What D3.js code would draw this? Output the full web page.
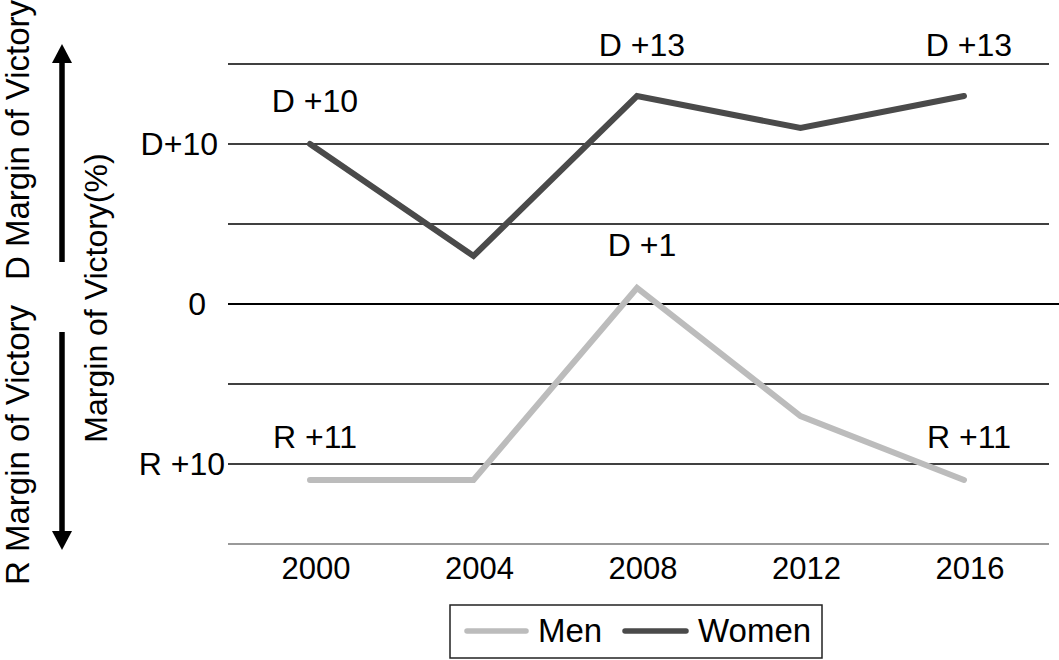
<!DOCTYPE html>
<html>
<head>
<meta charset="utf-8">
<script src="https://cdn.jsdelivr.net/npm/d3@7"></script>
<style>
  html, body { margin: 0; padding: 0; background: #fff; }
  text { font-family: "Liberation Sans", Arial, Helvetica, sans-serif; fill: #000; }
</style>
</head>
<body>
<svg id="chart" width="1059" height="660"></svg>
<script>
// ---- data ----
const years = [2000, 2004, 2008, 2012, 2016];
const menValues = [-11, -11, 1, -7, -11];
const womenValues = [10, 3, 13, 11, 13];
const gridValues = [15, 10, 5, 0, -5, -10, -15];
const yTickValues = [10, 0, -10];
const yTickLabels = ["D+10", "0", "R +10"];
const annotationYears = [2000, 2008, 2016, 2008, 2000, 2016];
const annotationValues = [12, 15.5, 15.5, 3, -9, -9];
const annotationTexts = ["D +10", "D +13", "D +13", "D +1", "R +11", "R +11"];
const seriesNames = ["Men", "Women"];
const yTitle = "Margin of Victory(%)";
const rTitle = "R Margin of Victory";
const dTitle = "D Margin of Victory";

// ---- layout ----
const svg = d3.select("#chart");
const x = d3.scaleLinear().domain([2000, 2016]).range([310, 964]);
const y = d3.scaleLinear().domain([-15, 15]).range([544, 64]);
const colors = { Men: "#bcbcbc", Women: "#4a4a4a" };
const FS = 32;

// grid lines
svg.append("g").selectAll("line").data(gridValues).join("line")
  .attr("x1", 228)
  .attr("x2", d => d === 0 ? 1059 : 1049)
  .attr("y1", d => y(d)).attr("y2", d => y(d))
  .attr("stroke", d => d === -15 ? "#777" : "#000")
  .attr("stroke-width", d => d === 0 ? 2 : 1.6);

// y tick labels
const tickEnds = [218, 206, 225];
svg.append("g").selectAll("text").data(yTickValues).join("text")
  .attr("x", (d, i) => tickEnds[i])
  .attr("y", d => y(d) + 11)
  .attr("text-anchor", "end")
  .attr("font-size", FS)
  .text((d, i) => yTickLabels[i]);

// x tick labels
svg.append("g").selectAll("text").data(years).join("text")
  .attr("x", d => x(d) + 6)
  .attr("y", 579)
  .attr("text-anchor", "middle")
  .attr("font-size", 31)
  .text(d => d);

// lines
const line = d3.line().x(d => x(d[0])).y(d => y(d[1]));
const series = [
  { name: "Men", values: menValues },
  { name: "Women", values: womenValues }
];
svg.append("g").selectAll("path").data(series).join("path")
  .attr("d", s => line(years.map((yr, i) => [yr, s.values[i]])))
  .attr("fill", "none")
  .attr("stroke", s => colors[s.name])
  .attr("stroke-width", 6)
  .attr("stroke-linejoin", "miter")
  .attr("stroke-linecap", "round");

// annotations
svg.append("g").selectAll("text").data(annotationTexts).join("text")
  .attr("x", (d, i) => x(annotationYears[i]) + 5)
  .attr("y", (d, i) => y(annotationValues[i]))
  .attr("text-anchor", "middle")
  .attr("font-size", FS)
  .text(d => d);

// axis titles
svg.append("text")
  .attr("transform", `translate(107, ${298}) rotate(-90)`)
  .attr("text-anchor", "middle")
  .attr("font-size", FS)
  .text(yTitle);
svg.append("text")
  .attr("transform", `translate(29, 585) rotate(-90)`)
  .attr("text-anchor", "start")
  .attr("font-size", 33)
  .text(rTitle);
svg.append("text")
  .attr("transform", `translate(29, 280) rotate(-90)`)
  .attr("text-anchor", "start")
  .attr("font-size", 33)
  .text(dTitle);

// arrows
const ax = 62;
svg.append("line").attr("x1", ax).attr("x2", ax).attr("y1", 262).attr("y2", 60)
  .attr("stroke", "#000").attr("stroke-width", 5.5);
svg.append("path").attr("d", `M${ax},44 L${ax - 10},63 L${ax + 10},63 Z`).attr("fill", "#000");
svg.append("line").attr("x1", ax).attr("x2", ax).attr("y1", 332).attr("y2", 534)
  .attr("stroke", "#000").attr("stroke-width", 5.5);
svg.append("path").attr("d", `M${ax},550 L${ax - 10},531 L${ax + 10},531 Z`).attr("fill", "#000");

// legend
const lg = svg.append("g");
lg.append("rect").attr("x", 450).attr("y", 605).attr("width", 372).attr("height", 53)
  .attr("fill", "#fff").attr("stroke", "#222").attr("stroke-width", 1.5);
const legX = [{ x1: 467, x2: 526, tx: 538 }, { x1: 625, x2: 686, tx: 698 }];
seriesNames.forEach((n, i) => {
  lg.append("line").attr("x1", legX[i].x1).attr("x2", legX[i].x2)
    .attr("y1", 631).attr("y2", 631)
    .attr("stroke", colors[n]).attr("stroke-width", 5.5).attr("stroke-linecap", "round");
  lg.append("text").attr("x", legX[i].tx).attr("y", 642).attr("font-size", 33).text(n);
});
</script>
</body>
</html>
